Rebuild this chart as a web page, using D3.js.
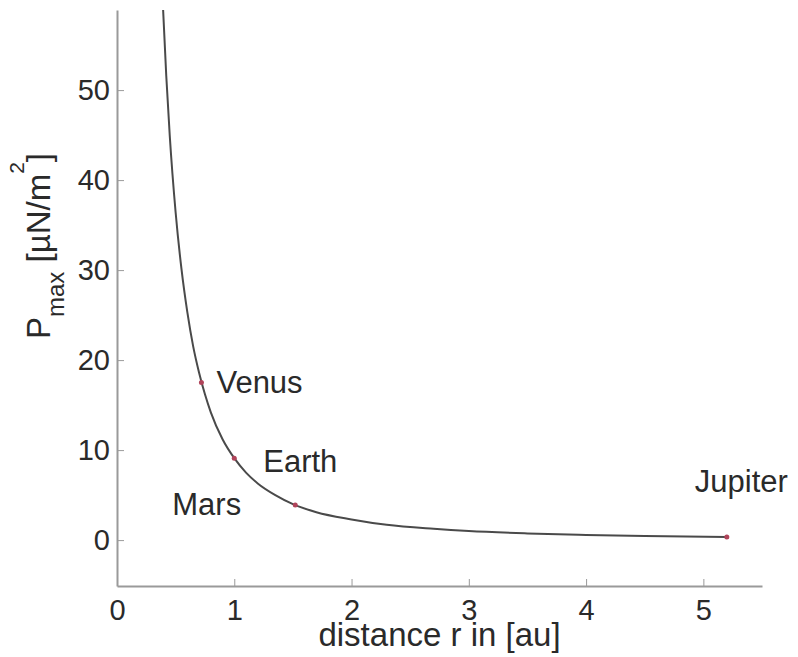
<!DOCTYPE html>
<html>
<head>
<meta charset="utf-8">
<script src="https://cdn.jsdelivr.net/npm/d3@7"></script>
<style>
  body { margin: 0; background: #fff; }
  svg text { font-family: "Liberation Sans", Arial, sans-serif; fill: #2a2a2a; }
  .axis path, .axis line { stroke: #9a9a9a; }
  .axis path { stroke-width: 2; }
</style>
</head>
<body>
<div id="chart"></div>
<script>
// distance from the sun [au] and max radiation pressure [uN/m^2]
let distances = [0.39, 0.42, 0.45, 0.5, 0.55, 0.6, 0.65, 0.7, 0.75, 0.8, 0.9, 1.0, 1.1, 1.2, 1.35, 1.5, 1.7, 2.0, 2.3, 2.7, 3.0, 3.5, 4.0, 4.5, 5.2];
let pressures = [59.8, 51.6, 44.9, 36.4, 30.1, 25.3, 21.5, 18.6, 16.2, 14.2, 11.2, 9.1, 7.5, 6.3, 5.0, 4.0, 3.1, 2.3, 1.7, 1.25, 1.0, 0.74, 0.57, 0.45, 0.34];

let planets = ["Venus", "Earth", "Mars", "Jupiter"];
let planetDistances = [0.72, 1.0, 1.52, 5.2];
let planetPressures = [17.5, 9.1, 3.9, 0.34];

let xTicks = [0, 1, 2, 3, 4, 5];
let yTicks = [0, 10, 20, 30, 40, 50];

let margin = {top: 10, right: 36, bottom: 71, left: 117};
let width = 645, height = 576;

let svg = d3.select("#chart").append("svg")
    .attr("width", width + margin.left + margin.right)
    .attr("height", height + margin.top + margin.bottom);
let graph = svg.append("g")
    .attr("transform", "translate(" + margin.left + "," + margin.top + ")");

let x = d3.scaleLinear().domain([0, 5.5]).range([0, width]);
let y = d3.scaleLinear().domain([-5.1, 58.9]).range([height, 0]);

graph.append("clipPath").attr("id", "clip")
  .append("rect")
    .attr("width", width).attr("height", height);

// axes, ticks point inward
graph.append("g")
    .attr("class", "axis")
    .attr("transform", "translate(0," + height + ")")
    .call(d3.axisBottom(x).tickValues(xTicks).tickFormat(d3.format("d"))
        .tickSize(-7).tickSizeOuter(0).tickPadding(13))
    .call(g => g.selectAll("text").attr("font-size", 29));
graph.append("g")
    .attr("class", "axis")
    .call(d3.axisLeft(y).tickValues(yTicks).tickSize(-7).tickSizeOuter(0).tickPadding(7))
    .call(g => g.selectAll("text").attr("font-size", 29));
graph.selectAll(".axis text").attr("fill", "#2a2a2a");
graph.selectAll(".axis .domain").attr("stroke", "#9a9a9a");

// curve
let line = d3.line()
    .x((d, i) => x(distances[i]))
    .y(d => y(d))
    .curve(d3.curveMonotoneX);

graph.append("path")
  .datum(pressures)
    .attr("clip-path", "url(#clip)")
    .attr("fill", "none")
    .attr("stroke", "#4a4a4a")
    .attr("stroke-width", 2)
    .attr("d", line);

// planet markers
graph.selectAll(".planet")
  .data(planets)
  .join("circle")
    .attr("class", "planet")
    .attr("cx", (d, i) => x(planetDistances[i]))
    .attr("cy", (d, i) => y(planetPressures[i]))
    .attr("r", 2.5)
    .attr("fill", "#b0445a");

// planet labels
let labelOffsets = {
    Venus: [15, 10],
    Earth: [29, 14],
    Mars: [-123, 10],
    Jupiter: [-32, -45]
};
graph.selectAll(".plabel")
  .data(planets)
  .join("text")
    .attr("class", "plabel")
    .attr("x", (d, i) => x(planetDistances[i]) + labelOffsets[d][0])
    .attr("y", (d, i) => y(planetPressures[i]) + labelOffsets[d][1])
    .attr("font-size", 31)
    .text(d => d);

// axis labels
svg.append("text")
    .attr("x", margin.left + width / 2)
    .attr("y", 646)
    .attr("text-anchor", "middle")
    .attr("font-size", 33)
    .text("distance r in [au]");

let yLabel = svg.append("text")
    .attr("transform", "translate(50,246) rotate(-90)")
    .attr("text-anchor", "middle")
    .attr("font-size", 33);
yLabel.append("tspan").text("P");
yLabel.append("tspan").attr("font-size", 24).attr("dy", 14).text("max");
yLabel.append("tspan").attr("dy", -14).text(" [\u00b5N/m");
yLabel.append("tspan").attr("font-size", 21).attr("dy", -26).text("2");
yLabel.append("tspan").attr("dy", 26).text("]");
</script>
</body>
</html>
